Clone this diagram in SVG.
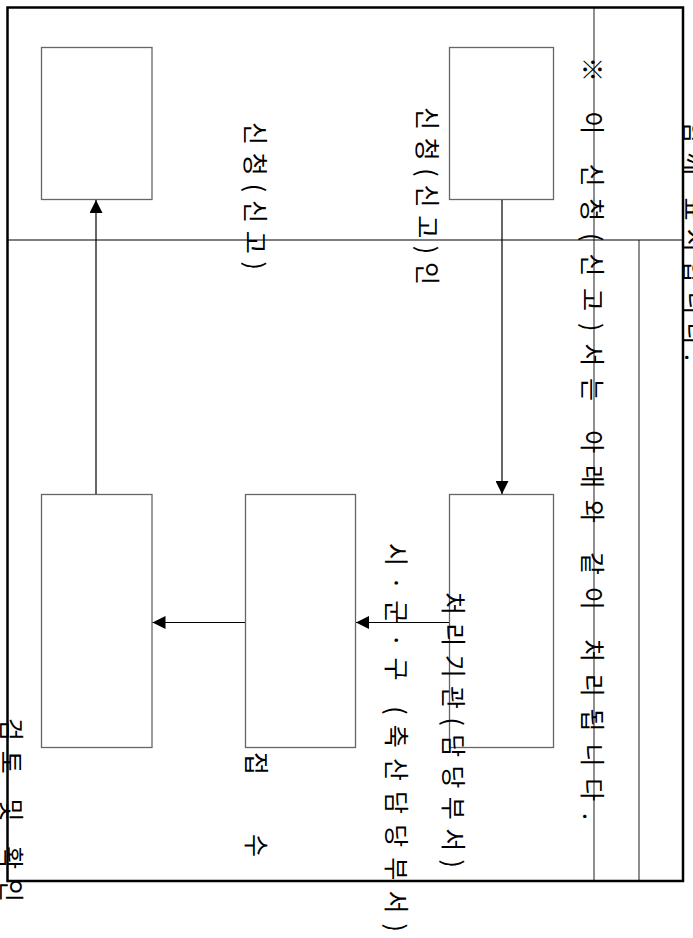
<svg xmlns="http://www.w3.org/2000/svg" width="693" height="938" viewBox="0 0 693 938">
<style>
.box{fill:#fff;stroke:#666;stroke-width:1.3}
.conn{stroke:#000;stroke-width:1.2;fill:none}
.rule{stroke:#444;stroke-width:1.2}
.t{font-family:"Noto Sans CJK KR","Noto Sans",sans-serif;font-size:25px;fill:#000;dominant-baseline:central}
</style>
<defs>
<marker id="ah" viewBox="0 0 10 10" refX="10" refY="5" markerUnits="userSpaceOnUse" markerWidth="13" markerHeight="13" orient="auto">
<path d="M0,0 L10,5 L0,10 z" fill="#000"/>
</marker>
</defs>
<rect width="693" height="938" fill="#fff"/>
<g id="frame">
<line class="rule" x1="594" y1="7" x2="594" y2="881"/>
<line class="rule" x1="639" y1="240" x2="639" y2="881"/>
<line x1="7" y1="240" x2="683" y2="240" stroke="#000" stroke-width="1.2"/>
<rect x="7.5" y="7.5" width="675.5" height="873.5" fill="none" stroke="#000" stroke-width="2.5"/>
</g>
<g id="notes">
<text class="t" transform="translate(594,57) rotate(90)" textLength="763" lengthAdjust="spacing">※ 이 신청(신고)서는 아래와 같이 처리됩니다.</text>
<text class="t" transform="translate(696,121) rotate(90)" textLength="240" lengthAdjust="spacing">함께 표시합니다.</text>
</g>
<g id="node-applicant">
<rect class="box" x="449.5" y="47.5" width="104" height="152"/>
<text class="t" transform="translate(429,107) rotate(90)" textLength="178" lengthAdjust="spacing">신청(신고)인</text>
</g>
<g id="node-agency">
<rect class="box" x="449.5" y="494.5" width="104" height="253"/>
<text class="t" transform="translate(455,592) rotate(90)" textLength="276" lengthAdjust="spacing">처리기관(담당부서)</text>
</g>
<g id="node-receipt">
<rect class="box" x="245.5" y="494.5" width="110" height="253"/>
<text class="t" transform="translate(398,543) rotate(90)" textLength="389" lengthAdjust="spacing">시·군·구 (축산담당부서)</text>
<text class="t" transform="translate(258,752) rotate(90)" textLength="105" lengthAdjust="spacing">접    수</text>
</g>
<g id="node-review">
<rect class="box" x="41.5" y="494.5" width="110.5" height="253"/>
<text class="t" transform="translate(13,718) rotate(90)" textLength="184" lengthAdjust="spacing">검토 및 확인</text>
</g>
<g id="node-result">
<rect class="box" x="41.5" y="47.5" width="110.5" height="152"/>
<text class="t" transform="translate(257,122) rotate(90)" textLength="148" lengthAdjust="spacing">신청(신고)</text>
</g>
<g id="connectors">
<line class="conn" x1="502" y1="200" x2="502" y2="494" marker-end="url(#ah)"/>
<line class="conn" x1="449" y1="622.5" x2="356" y2="622.5" marker-end="url(#ah)"/>
<line class="conn" x1="245" y1="622.5" x2="152.5" y2="622.5" marker-end="url(#ah)"/>
<line class="conn" x1="96" y1="494" x2="96" y2="200" marker-end="url(#ah)"/>
</g>
</svg>
